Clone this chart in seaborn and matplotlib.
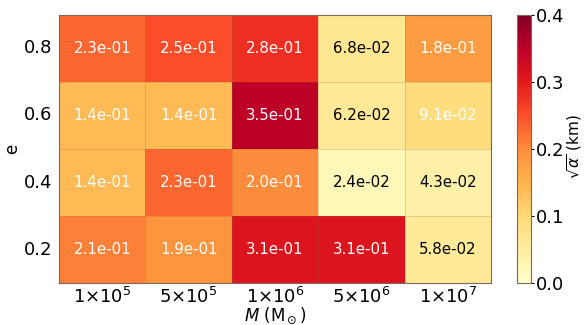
import numpy as np
import pandas as pd
import matplotlib
matplotlib.use("Agg")
import matplotlib.pyplot as plt
import seaborn as sns

# Eccentricity rows (top to bottom) and mass columns
e_values = [0.8, 0.6, 0.4, 0.2]
mass_labels = [r"$1{\times}10^{5}$", r"$5{\times}10^{5}$", r"$1{\times}10^{6}$",
               r"$5{\times}10^{6}$", r"$1{\times}10^{7}$"]

# sqrt(alpha) in km for each (e, M)
row_e08 = [2.3e-01, 2.5e-01, 2.8e-01, 6.8e-02, 1.8e-01]
row_e06 = [1.4e-01, 1.4e-01, 3.5e-01, 6.2e-02, 9.1e-02]
row_e04 = [1.4e-01, 2.3e-01, 2.0e-01, 2.4e-02, 4.3e-02]
row_e02 = [2.1e-01, 1.9e-01, 3.1e-01, 3.1e-01, 5.8e-02]

df = pd.DataFrame([row_e08, row_e06, row_e04, row_e02],
                  index=e_values, columns=mass_labels)

fig = plt.figure(figsize=(5.84, 3.25), dpi=100)
ax = fig.add_axes([0.101, 0.129, 0.740, 0.825])
cax = fig.add_axes([0.886, 0.129, 0.024, 0.825])

sns.heatmap(df, ax=ax, cbar_ax=cax, cmap="YlOrRd", vmin=0, vmax=0.4,
            annot=True, fmt=".1e", annot_kws={"fontsize": 10.8},
            linewidths=0.4, linecolor=(0.6, 0.4, 0.2, 0.25),
            cbar_kws={"ticks": [0.0, 0.1, 0.2, 0.3, 0.4]})

vals = df.values.ravel()
for txt, v in zip(ax.texts, vals):
    txt.set_color("white" if v > 0.08 else "black")

for sp in ax.spines.values():
    sp.set_visible(True)
    sp.set_color("#7a6a5a")
    sp.set_linewidth(0.8)

ax.set_yticklabels([f"{v}" for v in e_values], rotation=0, fontsize=13)
ax.set_xticklabels(mass_labels, rotation=0, fontsize=13)
ax.set_ylabel("e", fontsize=12, labelpad=2)
ax.set_xlabel(r"$M$ (M$_\odot$)", fontsize=12)
ax.xaxis.set_label_coords(0.5, -0.085)
ax.tick_params(axis="y", length=0, pad=5)
ax.tick_params(axis="x", length=0, pad=3)

cb = ax.collections[0].colorbar
cb.ax.tick_params(labelsize=13, length=2, width=0.8, pad=1)
cb.outline.set_edgecolor("#7a6a5a")
cb.outline.set_linewidth(0.8)
fig.text(0.968, 0.55, r"$\sqrt{\alpha}$ (km)", fontsize=11,
         rotation=90, ha="left", va="center")

fig.savefig("out.png", dpi=100)
